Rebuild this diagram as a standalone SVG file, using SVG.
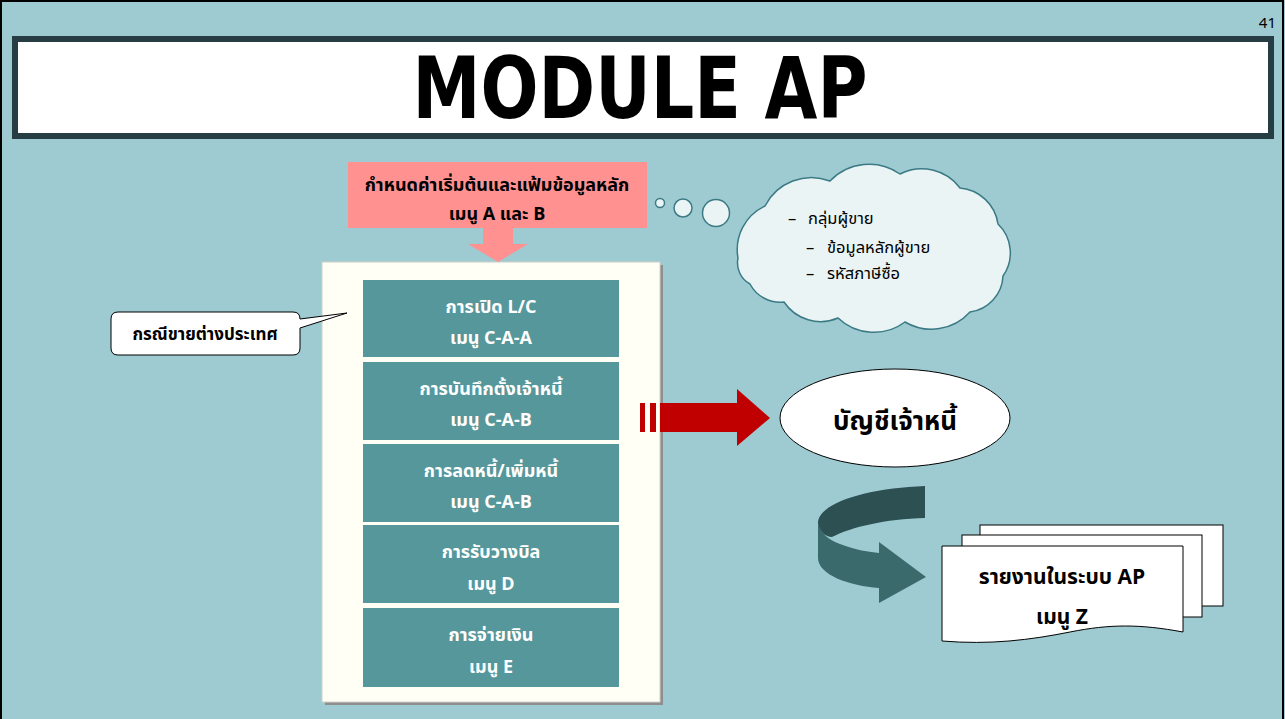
<svg xmlns="http://www.w3.org/2000/svg" width="1285" height="719" viewBox="0 0 1285 719">
<defs>
<style>
.t{font-family:"Noto Sans Thai","Noto Sans","DejaVu Sans",sans-serif;}
.bx{fill:#56979B;}
.bt{fill:#FFFFFF;font-size:18px;font-weight:bold;text-anchor:middle;}
.blk{fill:#000;font-weight:bold;text-anchor:middle;}
.ct{fill:#000;font-size:16.5px;}
.pg{fill:#FFFFFF;stroke:#000;stroke-width:1;}
.bub{fill:#EAF4F5;stroke:#3B7A85;stroke-width:1.5;}
</style>
</defs>
<rect x="0" y="0" width="1285" height="719" fill="#9ECBD1"/>
<rect x="1" y="1" width="1282" height="740" fill="none" stroke="#000" stroke-width="2"/>
<text class="t" x="1276" y="28" font-size="15" text-anchor="end" fill="#000">41</text>
<g id="title">
<rect x="15" y="39" width="1256" height="97" fill="#FFFFFF" stroke="#263D44" stroke-width="6"/>
<text x="640" y="118" font-family="DejaVu Sans, sans-serif" font-weight="bold" font-size="86" text-anchor="middle" textLength="455" lengthAdjust="spacingAndGlyphs" fill="#000">MODULE AP</text>
</g>
<g id="setup">
<rect x="348" y="162" width="299" height="66" fill="#FF9191"/>
<text class="t blk" x="497" y="191" font-size="18">กำหนดค่าเริ่มต้นและแฟ้มข้อมูลหลัก</text>
<text class="t blk" x="497" y="220" font-size="18">เมนู A และ B</text>
</g>
<g id="panel">
<rect x="325" y="265" width="338" height="440" fill="#8E8E8E"/>
<rect x="322" y="262" width="338" height="440" fill="#FFFFF6" stroke="#D0D0C8" stroke-width="1"/>
</g>
<g id="box1"><rect class="bx" x="363" y="280" width="256" height="77"/>
<text class="t bt" x="491" y="313">การเปิด L/C</text><text class="t bt" x="491" y="344">เมนู C-A-A</text></g>
<g id="box2"><rect class="bx" x="363" y="362" width="256" height="78"/>
<text class="t bt" x="491" y="395">การบันทึกตั้งเจ้าหนี้</text><text class="t bt" x="491" y="426">เมนู C-A-B</text></g>
<g id="box3"><rect class="bx" x="363" y="444" width="256" height="78"/>
<text class="t bt" x="491" y="477">การลดหนี้/เพิ่มหนี้</text><text class="t bt" x="491" y="508">เมนู C-A-B</text></g>
<g id="box4"><rect class="bx" x="363" y="525" width="256" height="78"/>
<text class="t bt" x="491" y="558">การรับวางบิล</text><text class="t bt" x="491" y="590">เมนู D</text></g>
<g id="box5"><rect class="bx" x="363" y="608" width="256" height="79"/>
<text class="t bt" x="491" y="641">การจ่ายเงิน</text><text class="t bt" x="491" y="673">เมนู E</text></g>
<g id="connectors">
<polygon points="483,228 513,228 513,244 528,244 498,262 468,244 483,244" fill="#FF9191"/>
<rect x="640" y="403" width="5" height="29" fill="#C00000"/>
<rect x="650" y="403" width="6" height="29" fill="#C00000"/>
<polygon points="660,403 737,403 737,389 770,418 737,446 737,432 660,432" fill="#C00000"/>
<path d="M925,486 C868,488 818,503 818,523 C818,530 825,537 832,537 C852,527 885,519 925,518 Z" fill="#2D5053"/>
<path d="M818,523 C820,532 828,540 840,544 C855,550 870,552 879,553 L879,542 L926,577 L879,603 L879,588 C850,586 818,575 818,558 Z" fill="#3B6A6D"/>
<circle class="bub" cx="660" cy="203" r="4.5"/>
<circle class="bub" cx="683" cy="208" r="9"/>
<circle class="bub" cx="716" cy="213" r="13.5"/>
</g>
<g id="callout">
<path d="M118,312 H293 Q300,312 300,319 L347,313 L300,328 V348 Q300,355 293,355 H118 Q111,355 111,348 V319 Q111,312 118,312 Z" fill="#FFFFFF" stroke="#000" stroke-width="1"/>
<text class="t blk" x="205" y="340" font-size="17">กรณีขายต่างประเทศ</text>
</g>
<g id="cloud">
<path d="M738,258 A48,48 0 0 1 765,206 A52,52 0 0 1 830,181 A54,54 0 0 1 900,174 A48,48 0 0 1 960,188 A42,42 0 0 1 998,224 A40,40 0 0 1 1003,276 A38,38 0 0 1 970,312 A52,52 0 0 1 905,322 A52,52 0 0 1 838,318 A44,44 0 0 1 784,302 A34,34 0 0 1 750,284 A24,24 0 0 1 738,258 Z" class="bub"/>
<text class="t ct" x="788" y="224">–</text><text class="t ct" x="808" y="224">กลุ่มผู้ขาย</text>
<text class="t ct" x="806" y="253">–</text><text class="t ct" x="827" y="253">ข้อมูลหลักผู้ขาย</text>
<text class="t ct" x="806" y="279">–</text><text class="t ct" x="827" y="279">รหัสภาษีซื้อ</text>
</g>
<g id="ledger">
<ellipse cx="895" cy="418" rx="115" ry="49" fill="#FFFFFF" stroke="#000" stroke-width="1"/>
<text class="t blk" x="895" y="430" font-size="26">บัญชีเจ้าหนี้</text>
</g>
<g id="report">
<rect class="pg" x="980" y="525" width="243" height="81"/>
<rect class="pg" x="962" y="535" width="240" height="82"/>
<path class="pg" d="M942,546 H1183 V632 C1140,624 1110,624 1070,632 C1030,640 990,645 942,641 Z"/>
<text class="t blk" x="1062" y="584" font-size="21">รายงานในระบบ AP</text>
<text class="t blk" x="1062" y="624" font-size="21">เมนู Z</text>
</g>
</svg>
